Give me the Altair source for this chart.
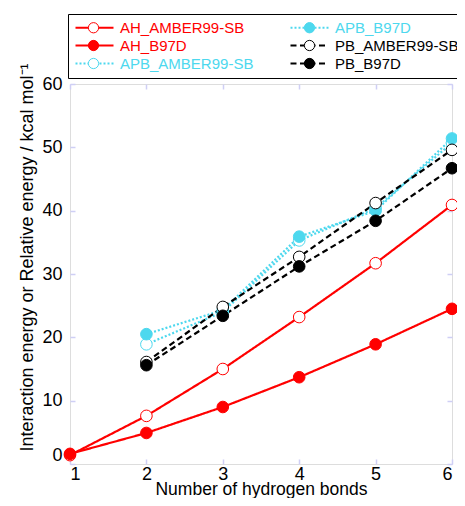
import altair as alt
import pandas as pd

# ---- data ----
x_values = [1, 2, 3, 4, 5, 6]
series_names = ["AH_AMBER99-SB", "AH_B97D", "APB_AMBER99-SB",
                "APB_B97D", "PB_AMBER99-SB", "PB_B97D"]
ah_amber = [1.4, 7.6, 15.0, 23.2, 31.7, 40.9]
ah_b97d = [1.6, 4.9, 9.0, 13.7, 18.9, 24.5]
apb_amber = [None, 18.9, 24.0, 35.3, 40.4, 50.7]
apb_b97d = [None, 20.5, 24.3, 35.9, 40.0, 51.4]
pb_amber = [None, 16.1, 24.8, 32.7, 41.2, 49.6]
pb_b97d = [None, 15.6, 23.4, 31.2, 38.4, 46.7]
x_ticks = [1, 2, 3, 4, 5, 6]
y_ticks = [0, 10, 20, 30, 40, 50, 60]

# ---- styles ----
RED, CYAN, BLACK = "#ff0000", "#4dd8ee", "#000000"
line_colors = [RED, RED, CYAN, CYAN, BLACK, BLACK]
fill_colors = ["#ffffff", RED, "#ffffff", CYAN, "#ffffff", BLACK]
dashes = [[1, 0], [1, 0], [2, 2], [2, 2], [6, 3.5], [6, 3.5]]
FRAME = "#cfcff5"
FONT = "Liberation Sans"

all_values = [ah_amber, ah_b97d, apb_amber, apb_b97d, pb_amber, pb_b97d]
rows = []
for name, vals in zip(series_names, all_values):
    for xv, yv in zip(x_values, vals):
        if yv is not None:
            rows.append({"x": xv, "y": yv, "series": name, "series_p": name})
df = pd.DataFrame(rows)

label_expr = " : ".join(
    f"datum.label == '{n}' ? '{c}'" for n, c in zip(series_names, line_colors)
) + " : 'black'"

legend_common = dict(
    orient="none", legendX=-2, legendY=-70, columns=2,
    rowPadding=2, padding=6, labelFont=FONT, labelFontSize=15, labelOffset=5,
    clipHeight=15, symbolSize=1444, title=None,
)

tick_inside = alt.ExprRef(expr="-5")

x_scale = alt.Scale(domain=[1, 6], nice=False, zero=False)
y_scale = alt.Scale(domain=[0, 60], nice=False)

base = alt.Chart(df)

lines = base.mark_line(strokeWidth=2.2).encode(
    x=alt.X("x:Q", scale=x_scale,
            axis=alt.Axis(orient="bottom", values=x_ticks, format="d",
                          title="Number of hydrogen bonds", titleFontSize=17.5,
                          titleFont=FONT, titleFontWeight="normal",
                          titleBaseline="alphabetic", titleY=30,
                          labelFont=FONT, labelFontSize=18,
                          labelColor="black", labelPadding=6,
                          tickSize=tick_inside, tickColor=FRAME, tickWidth=1.5,
                          domain=False, grid=False)),
    y=alt.Y("y:Q", scale=y_scale,
            axis=alt.Axis(orient="left", values=y_ticks, format="d",
                          title="Interaction energy or Relative energy / kcal mol⁻¹",
                          titleFontSize=18, titleFont=FONT,
                          titleFontWeight="normal", titlePadding=5, titleY=173,
                          labelFont=FONT, labelFontSize=18, labelColor="black",
                          labelPadding=13,
                          labelBaseline={"condition": {"test": "datum.value == 0",
                                                       "value": "bottom"},
                                         "value": "middle"},
                          tickSize=tick_inside, tickColor=FRAME, tickWidth=1.5,
                          domain=False, grid=False)),
    color=alt.Color("series:N",
                    scale=alt.Scale(domain=series_names, range=line_colors),
                    legend=alt.Legend(symbolType="stroke", symbolStrokeWidth=2.2,
                                      strokeColor="black", columnPadding=35,
                                      labelColor=alt.ExprRef(expr=label_expr),
                                      **legend_common)),
    strokeDash=alt.StrokeDash("series:N",
                              scale=alt.Scale(domain=series_names, range=dashes)),
)

circle_path = "M0.27,0A0.27,0.27,0,1,1,-0.27,0A0.27,0.27,0,1,1,0.27,0Z"

points = base.mark_point(shape="circle", filled=True, size=135,
                         strokeWidth=1, opacity=1).encode(
    x=alt.X("x:Q", scale=x_scale,
            axis=alt.Axis(orient="top", values=x_ticks, labels=False,
                          title=None, tickSize=tick_inside, tickColor=FRAME,
                          tickWidth=1.5, domain=False, grid=False)),
    y=alt.Y("y:Q", scale=y_scale,
            axis=alt.Axis(orient="right", values=y_ticks, labels=False,
                          title=None, tickSize=tick_inside, tickColor=FRAME,
                          tickWidth=1.5, domain=False, grid=False)),
    stroke=alt.Stroke("series_p:N",
                      scale=alt.Scale(domain=series_names, range=line_colors)),
    fill=alt.Fill("series_p:N",
                  scale=alt.Scale(domain=series_names, range=fill_colors),
                  legend=alt.Legend(symbolType=circle_path, symbolStrokeWidth=1,
                                    labelExpr="''", columnPadding=172,
                                    **legend_common)),
)

chart = alt.layer(lines, points).resolve_axis(
    x="independent", y="independent"
).resolve_scale(
    color="independent", stroke="independent", fill="independent",
    strokeDash="independent"
).properties(
    width=382, height=380,
    autosize=alt.AutoSizeParams(type="none"),
    padding={"left": 62, "top": 76, "right": 5, "bottom": 34},
).configure_view(
    stroke=FRAME, strokeWidth=1.5
).configure(background="white")

chart.save("out.html", embed_options={"renderer": "svg", "actions": False})
